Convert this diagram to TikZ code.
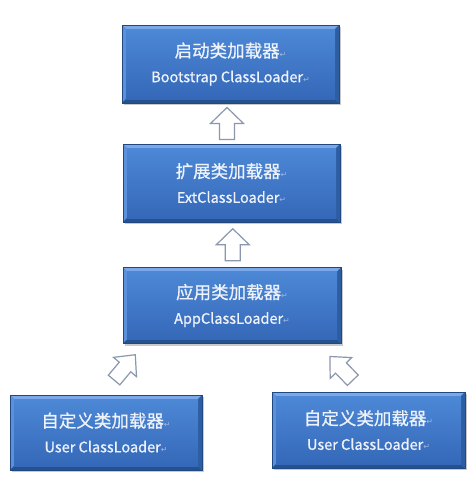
\documentclass[tikz,border=0pt]{standalone}
\usepackage{fontspec}
\newfontfamily\cjk[FakeBold=0.8]{Noto Sans CJK SC}
\newfontfamily\dvs{DejaVu Sans}
\usetikzlibrary{shadows,calc}
\definecolor{boxmid}{HTML}{3C76C6}
\definecolor{boxtop}{HTML}{4C88D6}
\definecolor{boxbot}{HTML}{3568B8}
\definecolor{bevlight}{HTML}{7AA8E8}
\definecolor{bevleft}{HTML}{5B91DC}
\definecolor{bevdark}{HTML}{24528F}
\definecolor{bevright}{HTML}{2D5DA2}
\definecolor{boxedge}{HTML}{21497F}
\definecolor{arrowc}{HTML}{8A97AE}
\definecolor{retc}{HTML}{9DB7DF}
\definecolor{txt}{HTML}{EEF2FA}
\newcommand{\ret}{{\dvs\fontsize{8}{8}\selectfont\color{retc}↵}}
\tikzset{
  x=1pt, y=1pt,
  loaderbox/.style={rectangle, inner sep=0pt, fill=boxmid, draw=boxedge, line width=0.5pt,
    drop shadow={shadow xshift=1.5pt, shadow yshift=-2pt, opacity=0.35, fill=black!60},
    text=txt, align=center,
    font=\cjk\fontsize{17.5}{25}\selectfont,
    path picture={
      \fill[bevlight] (path picture bounding box.north west) -- (path picture bounding box.north east)
        -- ([xshift=-4pt,yshift=-4pt]path picture bounding box.north east)
        -- ([xshift=4pt,yshift=-4pt]path picture bounding box.north west) -- cycle;
      \fill[bevleft] (path picture bounding box.north west) -- (path picture bounding box.south west)
        -- ([xshift=4pt,yshift=4pt]path picture bounding box.south west)
        -- ([xshift=4pt,yshift=-4pt]path picture bounding box.north west) -- cycle;
      \fill[bevdark] (path picture bounding box.south west) -- (path picture bounding box.south east)
        -- ([xshift=-4pt,yshift=4pt]path picture bounding box.south east)
        -- ([xshift=4pt,yshift=4pt]path picture bounding box.south west) -- cycle;
      \fill[bevright] (path picture bounding box.north east) -- (path picture bounding box.south east)
        -- ([xshift=-4pt,yshift=4pt]path picture bounding box.south east)
        -- ([xshift=-4pt,yshift=-4pt]path picture bounding box.north east) -- cycle;
      \shade[top color=boxtop, bottom color=boxbot]
        ([xshift=4pt,yshift=-4pt]path picture bounding box.north west)
        rectangle ([xshift=-4pt,yshift=4pt]path picture bounding box.south east);
    }},
  hollowarrow/.style={draw=arrowc, fill=white, line width=1.2pt, line join=miter},
  uparrow/.pic={\draw[hollowarrow] (-7.5,-16) -- (7.5,-16) -- (7.5,0) -- (16.5,0) -- (0,16) -- (-16.5,0) -- (-7.5,0) -- cycle;},
  diagarrow/.pic={\draw[hollowarrow] (-7.5,-17) -- (7.5,-17) -- (7.5,0) -- (15,0) -- (0,16) -- (-15,0) -- (-7.5,0) -- cycle;}
}
\newcommand{\en}[1]{{\fontsize{14.5}{25}\selectfont #1}}
\begin{document}
\begin{tikzpicture}
\fill[white] (0,0) rectangle (474,-480);
\useasboundingbox (0,0) rectangle (474,-480);

\node[loaderbox, minimum width=217, minimum height=78] (boot) at (230.5,-64)
  {启动类加载器\ret\\\en{Bootstrap ClassLoader}\ret};
\node[loaderbox, minimum width=217, minimum height=78] (ext) at (231.5,-183)
  {扩展类加载器\ret\\\en{ExtClassLoader}\ret};
\node[loaderbox, minimum width=218, minimum height=76] (app) at (232,-305.5)
  {应用类加载器\ret\\\en{AppClassLoader}\ret};
\node[loaderbox, minimum width=192, minimum height=75] (user1) at (106,-432.5)
  {自定义类加载器\ret\\\en{User ClassLoader}\ret};
\node[loaderbox, minimum width=193, minimum height=76] (user2) at (368.5,-430)
  {自定义类加载器\ret\\\en{User ClassLoader}\ret};

\coordinate (a1) at ($(boot.south)!0.5!(ext.north)+(-4,0)$);
\coordinate (a2) at ($(ext.south)!0.5!(app.north)+(1,0)$);
\coordinate (a3) at (125,-367);
\coordinate (a4) at (341,-368);
\pic at (a1) {uparrow};
\pic at (a2) {uparrow};
\pic[rotate=-40] at (a3) {diagarrow};
\pic[rotate=44] at (a4) {diagarrow};
\end{tikzpicture}
\end{document}
